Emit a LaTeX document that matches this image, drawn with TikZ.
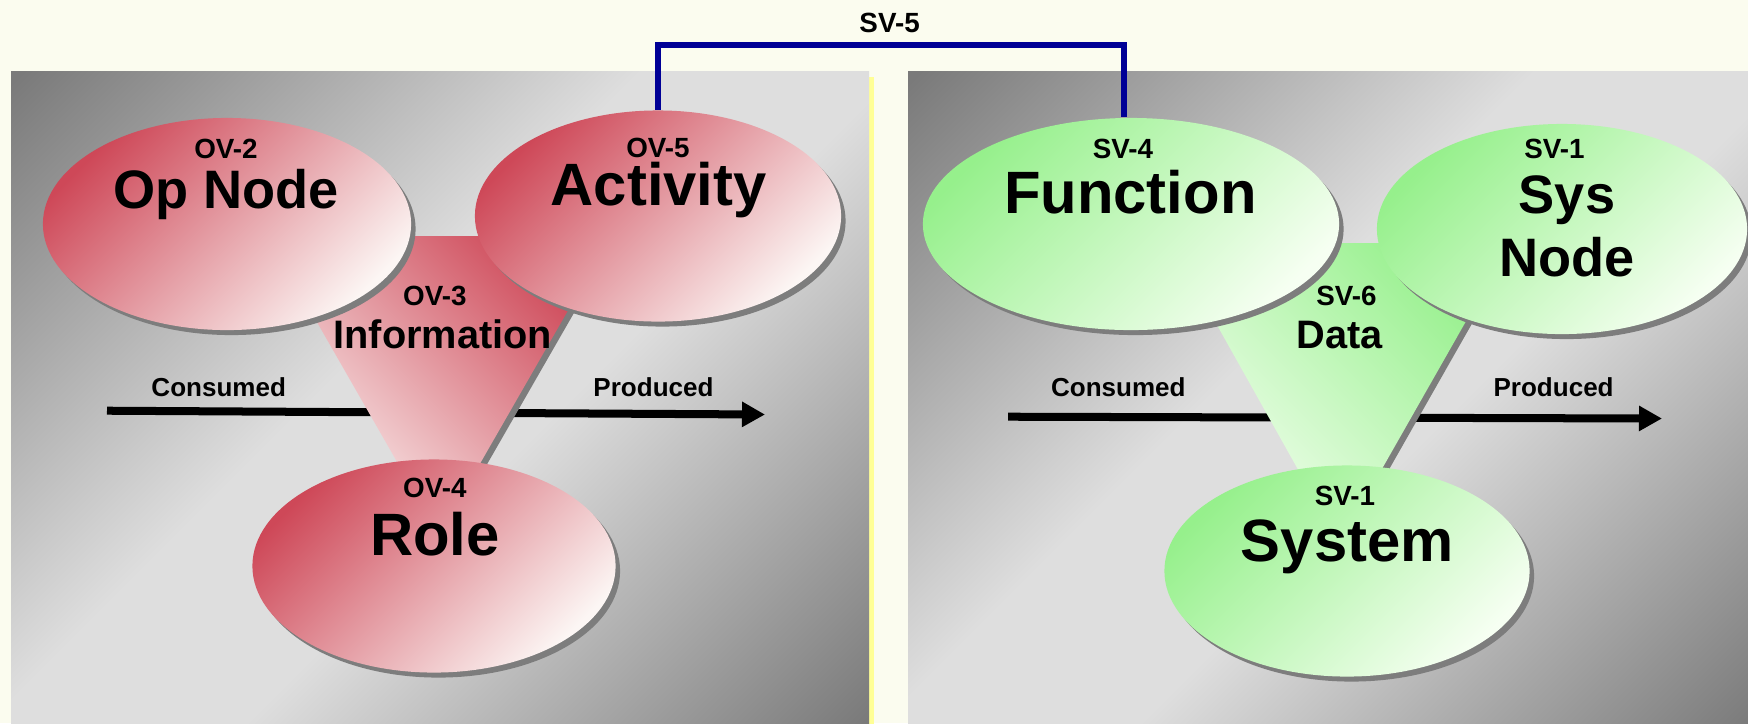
\documentclass[tikz,border=0pt]{standalone}
\usepackage{fontspec}
\setmainfont{Liberation Sans}
\usetikzlibrary{shapes.geometric,shadows,arrows.meta}
\definecolor{cream}{RGB}{251,252,239}
\definecolor{ystrip}{RGB}{255,255,150}
\definecolor{pdark}{RGB}{122,122,122}
\definecolor{plight}{RGB}{222,222,222}
\definecolor{redA}{RGB}{206,72,88}
\definecolor{redB}{RGB}{252,246,244}
\definecolor{grnA}{RGB}{150,240,140}
\definecolor{grnB}{RGB}{246,255,242}
\definecolor{shgray}{RGB}{125,125,125}
\definecolor{svblue}{RGB}{0,0,150}
\pgfdeclareverticalshading{panelsh}{100bp}{color(0bp)=(pdark); color(15bp)=(pdark); color(44bp)=(plight); color(56bp)=(plight); color(85bp)=(pdark); color(100bp)=(pdark)}
\tikzset{
  shad/.style={drop shadow={shadow xshift=0.045cm, shadow yshift=-0.05cm, fill=shgray, opacity=1}},
  redell/.style={ellipse, inner sep=0, shad, top color=redA, bottom color=redB, shading angle=45},
  grnell/.style={ellipse, inner sep=0, shad, top color=grnA, bottom color=grnB, shading angle=45},
  redtri/.style={shad, top color=redA, bottom color=redB, shading angle=-45},
  grntri/.style={shad, top color=grnA, bottom color=grnB, shading angle=-45},
  panel/.style={shading=panelsh, shading angle=45},
  lblS/.style={font=\fontsize{7.9}{9}\selectfont\bfseries, anchor=base, inner sep=0},
  lblF/.style={font=\fontsize{7.4}{9}\selectfont\bfseries, anchor=base, inner sep=0},
  lblM/.style={font=\fontsize{11.3}{13}\selectfont\bfseries, anchor=base, inner sep=0},
  lblB/.style={font=\fontsize{17}{19}\selectfont\bfseries, anchor=base, inner sep=0},
  lblBs/.style={font=\fontsize{15.4}{18}\selectfont\bfseries, anchor=base, inner sep=0},
  flowarrow/.style={line width=0.08cm, -{Triangle[length=0.23cm,width=0.24cm]}},
  svline/.style={draw=svblue, line width=0.06cm}
}
\begin{document}
\begin{tikzpicture}[x=0.01cm,y=-0.01cm]
\useasboundingbox (0,0) rectangle (1748,723);
\clip (0,0) rectangle (1748,723);
\fill[cream] (0,0) rectangle (1748,723);
% yellow strip and panels
\fill[ystrip] (860,77) rectangle (874,730);
\shade[panel] (11,71) rectangle (869,730);
\shade[panel] (908,71) rectangle (1760,730);
% flow arrows
\coordinate (cl1) at (107,410.7);
\coordinate (cl2) at (765,414.5);
\coordinate (cr1) at (1008,416.7);
\coordinate (cr2) at (1662,418.5);
\draw[flowarrow] (cl1) -- (cl2);
\draw[flowarrow] (cr1) -- (cr2);
% triangles
\shade[redtri] (267.6,236) -- (610.8,236) -- (439,535) -- cycle;
\shade[grntri] (1171,243) -- (1510.5,243) -- (1339.5,543.5) -- cycle;
% ellipses
\node[redell, minimum width=3.68cm, minimum height=2.12cm] (opn) at (227,224) {};
\node[redell, minimum width=3.66cm, minimum height=2.11cm] (act) at (658,216) {};
\node[redell, minimum width=3.63cm, minimum height=2.13cm] (role) at (434,566) {};
\node[grnell, minimum width=4.16cm, minimum height=2.12cm] (fun) at (1131,224) {};
\node[grnell, minimum width=3.70cm, minimum height=2.10cm] (sysn) at (1562,229) {};
\node[grnell, minimum width=3.65cm, minimum height=2.11cm] (sys) at (1347,571) {};
% labels left
\node[lblS] (t_ov2) at (226,158.3) {OV-2};
\node[lblBs] (t_opn) at (226,208.3) {Op Node};
\node[lblS] (t_ov5) at (658,157.3) {OV-5};
\node[lblB] (t_act) at (658.7,205) {Activity};
\node[lblS] (t_ov3) at (434.8,305) {OV-3};
\node[lblM] (t_inf) at (442.9,348.3) {Information};
\node[lblS] (t_ov4) at (434.8,497.3) {OV-4};
\node[lblB] (t_role) at (434.8,555) {Role};
\node[lblF] (t_cl) at (218.7,396) {Consumed};
\node[lblF] (t_pl) at (653.5,396) {Produced};
% labels right
\node[lblS] (t_sv4) at (1123,158.3) {SV-4};
\node[lblB] (t_fun) at (1130.3,213.3) {Function};
\node[lblS] (t_sv1a) at (1554.5,158.3) {SV-1};
\node[lblBs] (t_sys) at (1567,213.3) {Sys};
\node[lblBs] (t_node) at (1567,276.7) {Node};
\node[lblS] (t_sv6) at (1346.5,305.7) {SV-6};
\node[lblM] (t_data) at (1339.8,348.3) {Data};
\node[lblS] (t_sv1b) at (1345,505) {SV-1};
\node[lblB] (t_system) at (1347.3,561.7) {System};
\node[lblF] (t_cr) at (1118.3,396) {Consumed};
\node[lblF] (t_pr) at (1553.6,396) {Produced};
% SV-5 connector
\node[lblS] (t_sv5) at (889.6,32) {SV-5};
\coordinate (sv5top) at (0,45);
\draw[svline] (act.north) -- (act.north |- sv5top) -| ([xshift=-0.07cm]fun.north);
\end{tikzpicture}
\end{document}
